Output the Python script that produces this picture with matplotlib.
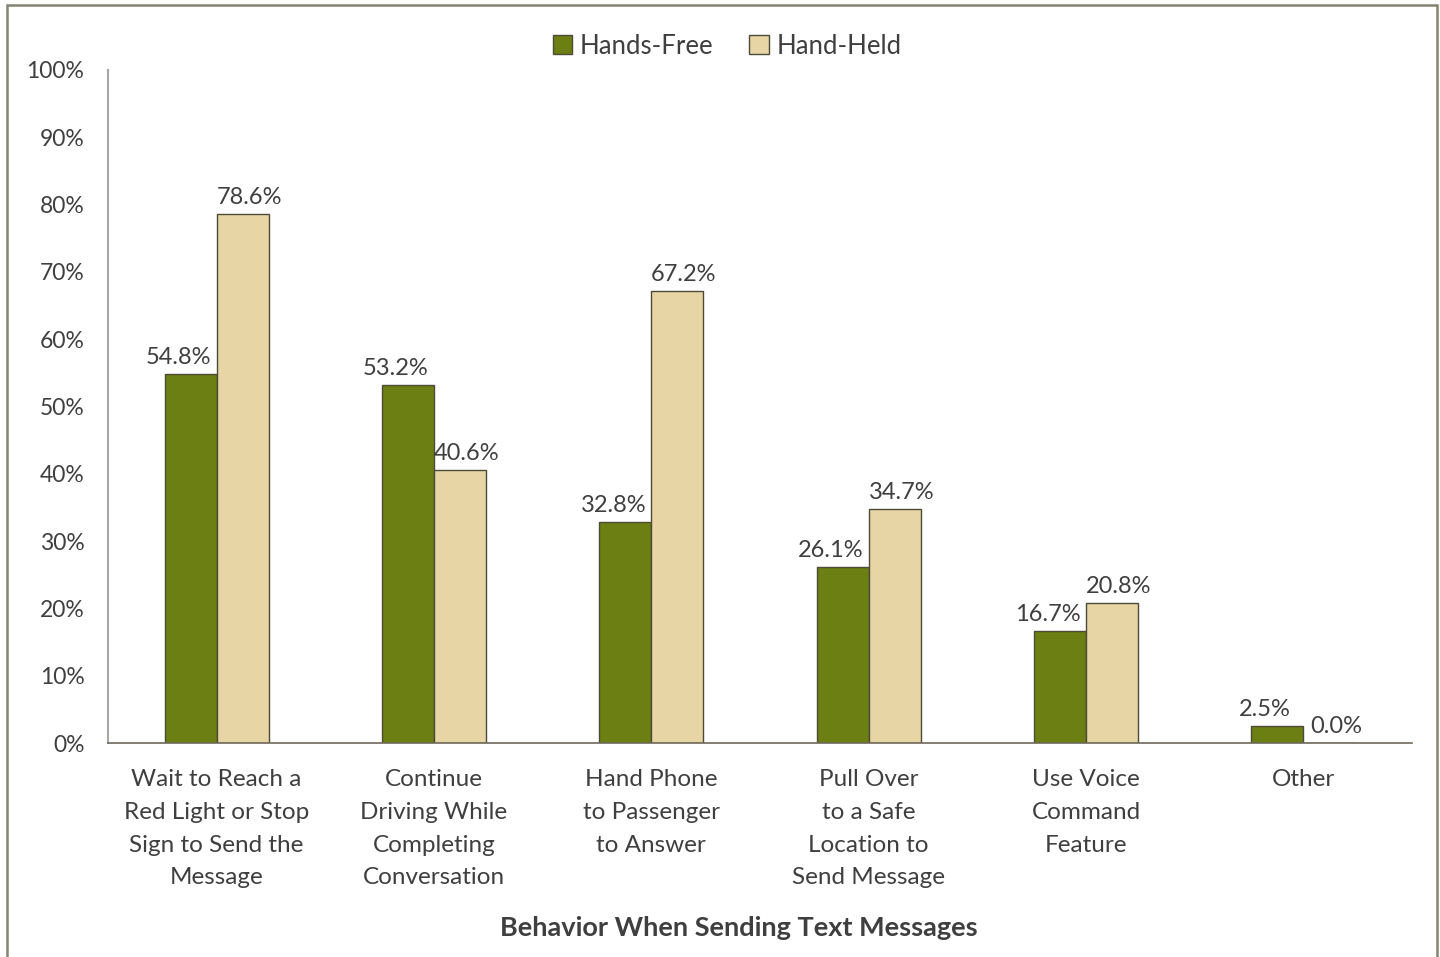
import matplotlib.pyplot as plt
from matplotlib.patches import Rectangle, Patch
import numpy as np

categories = ["Wait to Reach a\nRed Light or Stop\nSign to Send the\nMessage",
              "Continue\nDriving While\nCompleting\nConversation",
              "Hand Phone\nto Passenger\nto Answer",
              "Pull Over\nto a Safe\nLocation to\nSend Message",
              "Use Voice\nCommand\nFeature",
              "Other"]
hands_free = [54.8, 53.2, 32.8, 26.1, 16.7, 2.5]
hand_held = [78.6, 40.6, 67.2, 34.7, 20.8, 0.0]
yticks = [0, 10, 20, 30, 40, 50, 60, 70, 80, 90, 100]

green = "#6b7f12"
tan = "#e8d5a5"
edge = "#4d4a38"
txt = "#3f3f3f"

plt.rcParams['font.family'] = ['Lato', 'DejaVu Sans']

fig = plt.figure(figsize=(14.4, 9.57), dpi=100)
ax = fig.add_axes([108 / 1440, 1 - 743 / 957, 1304 / 1440, 673 / 957])

x = np.arange(len(categories))
w = 0.24
ax.bar(x - w / 2, hands_free, w, color=green, edgecolor=edge, linewidth=1, label="Hands-Free")
ax.bar(x + w / 2, hand_held, w, color=tan, edgecolor=edge, linewidth=1, label="Hand-Held")

for i in range(len(categories)):
    ax.text(x[i] - w / 2 - 0.055, hands_free[i] + 0.9, "%.1f%%" % hands_free[i],
            ha="center", va="bottom", fontsize=17, color=txt)
    ax.text(x[i] + w / 2 + 0.03, hand_held[i] + 0.9, "%.1f%%" % hand_held[i],
            ha="center", va="bottom", fontsize=17, color=txt)

ax.set_xlim(-0.5, len(categories) - 0.5)
ax.set_ylim(0, 100)
ax.set_yticks(yticks)
ax.set_yticklabels(["%d%%" % v for v in yticks], fontsize=16.5, color=txt)
ax.set_xticks(x)
ax.set_xticklabels(categories, fontsize=17.5, color=txt, linespacing=1.68, va="top")
ax.tick_params(axis="both", length=0)
ax.tick_params(axis="y", pad=17)
ax.tick_params(axis="x", pad=19)

for s in ["top", "right"]:
    ax.spines[s].set_visible(False)
ax.spines["left"].set_color("#a6a6a6")
ax.spines["left"].set_linewidth(1.5)
ax.spines["bottom"].set_color("#6f6a5a")
ax.spines["bottom"].set_linewidth(1.2)

fig.text(739 / 1440, 1 - 928 / 957, "Behavior When Sending Text Messages",
         ha="center", va="center", fontsize=19.5, fontweight="bold", color=txt)

handles = [Patch(facecolor=green, edgecolor=edge), Patch(facecolor=tan, edgecolor=edge)]
fig.legend(handles, ["Hands-Free", "Hand-Held"], loc="center", bbox_to_anchor=(727 / 1440, 1 - 46 / 957),
           ncol=2, frameon=False, fontsize=18.5, handlelength=0.75, handleheight=0.75,
           handletextpad=0.3, columnspacing=1.4, labelcolor=txt)

# outer frame
fig.patches.append(Rectangle((7 / 1440, -0.05), 1430 / 1440, 1.05 - 5 / 957, transform=fig.transFigure,
                             fill=False, edgecolor="#85826f", linewidth=1.8))

fig.savefig("out.png", dpi=100)
